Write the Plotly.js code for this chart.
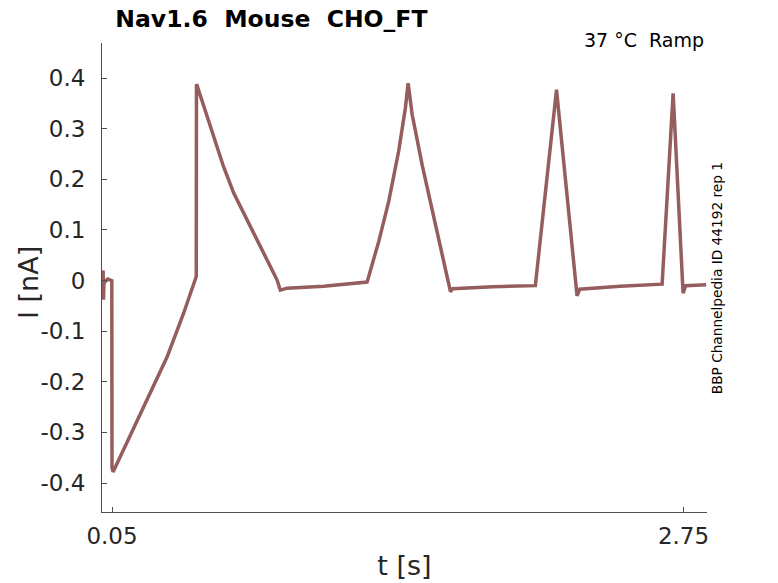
<!DOCTYPE html>
<html>
<head>
<meta charset="utf-8">
<script src="https://cdn.plot.ly/plotly-3.0.1.min.js"></script>
<style>
  html, body { margin: 0; padding: 0; background: #fff; }
  #grafico { width: 778px; height: 583px; }
</style>
</head>
<body>
<div id="grafico"></div>
<script>
// time [s] and current [nA]
var timeS = [0.003, 0.008, 0.010, 0.012, 0.018, 0.03, 0.049, 0.050, 0.055,
  0.089, 0.152, 0.231, 0.310, 0.388, 0.444, 0.448, 0.449,
  0.452, 0.530, 0.577, 0.625, 0.688, 0.766, 0.830, 0.845, 0.877,
  1.05, 1.255, 1.310, 1.357, 1.404, 1.436, 1.449, 1.468, 1.515, 1.578, 1.649, 1.66,
  1.85, 2.050, 2.150, 2.247, 2.26, 2.45, 2.649, 2.701,
  2.748, 2.76, 2.857];
var currentNA = [0.0, 0.020, -0.038, 0.002, -0.002, 0.003, 0.0, -0.370, -0.378,
  -0.348, -0.289, -0.223, -0.151, -0.065, 0.004, 0.008, 0.388,
  0.385, 0.285, 0.225, 0.173, 0.120, 0.054, 0.001, -0.019, -0.015,
  -0.011, -0.003, 0.077, 0.156, 0.255, 0.341, 0.390, 0.328, 0.229, 0.110, -0.022, -0.016,
  -0.012, -0.010, 0.377, -0.030, -0.017, -0.011, -0.007, 0.370,
  -0.025, -0.010, -0.008];

var yTickVals = [-0.4, -0.3, -0.2, -0.1, 0, 0.1, 0.2, 0.3, 0.4];
var yTickText = ['-0.4', '-0.3', '-0.2', '-0.1', '0', '0.1', '0.2', '0.3', '0.4'];
var xTickVals = [0.05, 2.75];
var xTickText = ['0.05', '2.75'];

var trace = {
  x: timeS,
  y: currentNA,
  type: 'scatter',
  mode: 'lines',
  line: { color: '#955d5d', width: 3.5 },
  hoverinfo: 'skip'
};

var fnt = 'DejaVu Sans, sans-serif';
var layout = {
  width: 778,
  height: 583,
  margin: { l: 102, r: 71, t: 43, b: 71 },
  paper_bgcolor: '#fff',
  plot_bgcolor: '#fff',
  showlegend: false,
  font: { family: fnt, color: '#262626' },
  title: {
    text: '<b>Nav1.6\u00a0\u00a0Mouse\u00a0\u00a0CHO_FT</b>',
    font: { family: fnt, size: 23.5, color: '#000' },
    xref: 'paper', x: 0.022, xanchor: 'left',
    yref: 'container', y: 0.968, yanchor: 'middle'
  },
  xaxis: {
    range: [0.0027, 2.861],
    tickvals: xTickVals,
    ticktext: xTickText,
    ticks: 'inside', ticklen: 5, tickcolor: '#4d4d4d',
    showline: true, linecolor: '#4d4d4d', linewidth: 1,
    showgrid: false, zeroline: false,
    tickfont: { family: fnt, size: 23, color: '#262626' },
    ticklabelstandoff: 3,
    title: { text: 't [s]', font: { family: fnt, size: 27, color: '#262626' }, standoff: 8 }
  },
  yaxis: {
    range: [-0.4572, 0.4694],
    tickvals: yTickVals,
    ticktext: yTickText,
    ticks: 'inside', ticklen: 5, tickcolor: '#4d4d4d',
    showline: true, linecolor: '#4d4d4d', linewidth: 1,
    showgrid: false, zeroline: false,
    tickfont: { family: fnt, size: 23, color: '#262626' },
    ticklabelstandoff: 11
  },
  annotations: [
    {
      text: 'I [nA]',
      xref: 'paper', yref: 'paper', x: -0.1227, y: 0.490,
      xanchor: 'center', yanchor: 'middle', textangle: -90, showarrow: false,
      font: { family: fnt, size: 27, color: '#262626' }
    },
    {
      text: '37 °C\u00a0\u00a0Ramp',
      xref: 'paper', yref: 'paper', x: 0.998, y: 1.007,
      xanchor: 'right', yanchor: 'middle', showarrow: false,
      font: { family: fnt, size: 19, color: '#000' }
    },
    {
      text: 'BBP Channelpedia ID 44192 rep 1',
      xref: 'paper', yref: 'paper', x: 1.017, y: 0.499,
      xanchor: 'center', yanchor: 'middle', textangle: -90, showarrow: false,
      font: { family: fnt, size: 13.7, color: '#000' }
    }
  ]
};

Plotly.newPlot('grafico', [trace], layout, { displayModeBar: false, staticPlot: true });
</script>
</body>
</html>
